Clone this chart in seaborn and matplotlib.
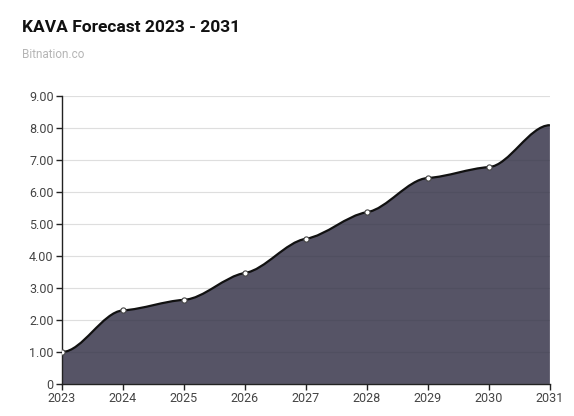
import numpy as np
import matplotlib.pyplot as plt
import seaborn as sns
from matplotlib.path import Path
from matplotlib.patches import PathPatch

# data
years = [2023, 2024, 2025, 2026, 2027, 2028, 2029, 2030, 2031]
prices = [1.00, 2.30, 2.63, 3.47, 4.54, 5.37, 6.44, 6.78, 8.09]
y_ticks = [0, 1, 2, 3, 4, 5, 6, 7, 8, 9]
y_labels = ['0', '1.00', '2.00', '3.00', '4.00', '5.00', '6.00', '7.00', '8.00', '9.00']

sns.set_theme(style='white')
plt.rcParams['font.family'] = ['Roboto', 'DejaVu Sans']

fig = plt.figure(figsize=(5.74, 4.16), dpi=100)
ax = fig.add_axes([0.108, 0.077, 0.85, 0.692])

x = np.array(years, dtype=float)
y = np.array(prices)

# tangents: monotone style, damped, flat at the ends
sec = np.diff(y) / np.diff(x)
tan = np.zeros_like(y)
for i in range(1, len(y) - 1):
    if sec[i - 1] * sec[i] > 0:
        tan[i] = 0.35 * min(abs(sec[i - 1]), abs(sec[i]), 0.5 * abs(sec[i - 1] + sec[i]))

verts = [(x[0], 0), (x[0], y[0])]
codes = [Path.MOVETO, Path.LINETO]
line_verts = [(x[0], y[0])]
line_codes = [Path.MOVETO]
for i in range(len(x) - 1):
    h = x[i + 1] - x[i]
    c1 = (x[i] + h / 3, y[i] + tan[i] * h / 3)
    c2 = (x[i + 1] - h / 3, y[i + 1] - tan[i + 1] * h / 3)
    p = (x[i + 1], y[i + 1])
    verts += [c1, c2, p]
    codes += [Path.CURVE4] * 3
    line_verts += [c1, c2, p]
    line_codes += [Path.CURVE4] * 3
verts += [(x[-1], 0), (x[0], 0)]
codes += [Path.LINETO, Path.CLOSEPOLY]

ax.add_patch(PathPatch(Path(verts, codes), facecolor='#565466', edgecolor='none', zorder=2))
ax.add_patch(PathPatch(Path(line_verts, line_codes), facecolor='none', edgecolor='#111111',
                       lw=1.6, zorder=3))

for t in y_ticks[1:]:
    ax.axhline(t, color='#ececec', lw=0.8, zorder=1)
    ax.axhline(t, color='black', alpha=0.06, lw=0.8, zorder=2.5)

sns.scatterplot(x=years[:-1], y=prices[:-1], ax=ax, s=14, color='white',
                edgecolor='#444444', linewidth=0.8, zorder=4)

ax.set_xlim(2023, 2031)
ax.set_ylim(0, 9)
ax.set_xticks(years)
ax.set_xticklabels([str(v) for v in years])
ax.set_yticks(y_ticks)
ax.set_yticklabels(y_labels)
ax.tick_params(axis='both', length=4, width=1, color='#222222', labelsize=9,
               labelcolor='#444444', pad=2, bottom=True, left=True)
for side in ['top', 'right']:
    ax.spines[side].set_visible(False)
for side in ['left', 'bottom']:
    ax.spines[side].set_color('#222222')
    ax.spines[side].set_linewidth(1)
ax.set_xlabel('')
ax.set_ylabel('')

fig.text(22 / 574, 1 - 28 / 416, 'KAVA Forecast 2023 - 2031', fontsize=12.5,
         fontweight='bold', color='#111111', va='center', ha='left')
fig.text(22 / 574, 1 - 54 / 416, 'Bitnation.co', fontsize=8.5, color='#b5b5b5',
         va='center', ha='left')

fig.savefig('out.png', dpi=100)
